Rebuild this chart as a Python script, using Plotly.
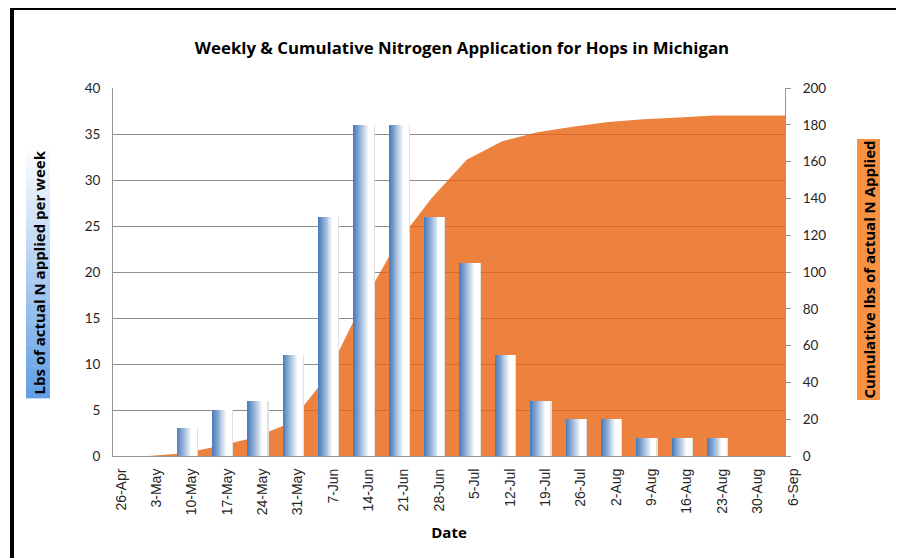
import plotly.graph_objects as go

# ---------------- data ----------------
dates = ["26-Apr", "3-May", "10-May", "17-May", "24-May", "31-May", "7-Jun", "14-Jun",
         "21-Jun", "28-Jun", "5-Jul", "12-Jul", "19-Jul", "26-Jul", "2-Aug", "9-Aug",
         "16-Aug", "23-Aug", "30-Aug", "6-Sep"]
weekly_lbs = [0, 0, 3, 5, 6, 11, 26, 36, 36, 26, 21, 11, 6, 4, 4, 2, 2, 2, 0, 0]
cumulative_lbs = [0, 0, 1.5, 5.5, 10, 18, 42, 81, 115, 140, 161, 171, 176, 179,
                  181.5, 183, 184, 185, 185, 185]
left_ticks = [0, 5, 10, 15, 20, 25, 30, 35, 40]
right_ticks = [0, 20, 40, 60, 80, 100, 120, 140, 160, 180, 200]

title_text = "Weekly & Cumulative Nitrogen Application for Hops in Michigan"
left_title = "Lbs of actual N applied per week"
right_title = "Cumulative lbs of actual N Applied"
x_title = "Date"

# ---------------- style ----------------
OFF = 8                      # page body margin
W, H = 904 - OFF, 558 - OFF
PX0, PX1, PY0, PY1 = 113, 785, 88, 456   # plot area in page pixels
L, T = PX0 - OFF, PY0 - OFF
PW, PH = PX1 - PX0, PY1 - PY0
R, B = W - L - PW, H - T - PH


def px_x(p):
    return (p - PX0) / PW


def px_y(p):
    return (PY1 - p) / PH


ORANGE_FILL = "rgba(231,99,12,0.80)"
GRID = "rgb(140,140,140)"
AXIS = "rgb(150,150,150)"
TICKFONT = dict(family="Lato, Open Sans, sans-serif", size=13.5, color="#262626")

fig = go.Figure()

# cumulative area (base y axis, right side)
fig.add_trace(go.Scatter(
    x=dates, y=cumulative_lbs, mode="lines", fill="tozeroy",
    line=dict(width=0, color="rgb(236,131,57)"), fillcolor=ORANGE_FILL,
    name="Cumulative", yaxis="y", showlegend=False))

# weekly bars with horizontal blue->white gradient made of thin overlaid slices
bar_w = 0.54
shift = 0.08
n_slices = 20
blue = (72, 122, 186)
# soft shadow behind bars
fig.add_trace(go.Bar(
    x=dates, y=weekly_lbs, yaxis="y2", width=bar_w + 0.04,
    offset=shift - bar_w / 2 + 0.01, marker=dict(color="rgb(225,225,225)", line=dict(width=0)),
    showlegend=False, hoverinfo="skip"))
for k in range(n_slices):
    t = (k + 0.5) / n_slices
    s = min(1.0, t / 0.78) ** 1.1
    c = tuple(round(b + (255 - b) * s) for b in blue)
    fig.add_trace(go.Bar(
        x=dates, y=weekly_lbs, yaxis="y2",
        width=bar_w / n_slices + 0.004,
        offset=shift - bar_w / 2 + k * bar_w / n_slices,
        marker=dict(color="rgb(%d,%d,%d)" % c, line=dict(width=0)),
        showlegend=False, hoverinfo="skip" if k else None, name="Weekly"))

# decorative gradient box behind the left axis title
shapes = []
bx0, bx1 = px_x(26), px_x(50)
by_top, by_bot = 146, 398
nb = 24
for i in range(nb):
    y0p = by_top + (by_bot - by_top) * i / nb
    y1p = by_top + (by_bot - by_top) * (i + 1) / nb
    s = (i + 0.5) / nb
    c0 = (255, 255, 255)
    c1 = (95, 158, 228)
    c = tuple(round(a + (b - a) * s) for a, b in zip(c0, c1))
    shapes.append(dict(type="rect", xref="paper", yref="paper",
                       x0=bx0, x1=bx1, y0=px_y(y1p) - 0.001, y1=px_y(y0p),
                       fillcolor="rgb(%d,%d,%d)" % c, line=dict(width=0), layer="below"))

# outer frame lines (left and top)
shapes.append(dict(type="line", xref="paper", yref="paper",
                   x0=px_x(12), x1=px_x(12), y0=px_y(8), y1=px_y(600),
                   line=dict(color="black", width=4)))
shapes.append(dict(type="line", xref="paper", yref="paper",
                   x0=px_x(10), x1=px_x(950), y0=px_y(8.5), y1=px_y(8.5),
                   line=dict(color="black", width=3)))

annotations = [
    dict(text="<b>%s</b>" % left_title, xref="paper", yref="paper",
         x=px_x(38), y=px_y(272.5), textangle=-90, showarrow=False,
         font=dict(family="Open Sans, sans-serif", size=15, color="black"),
         xanchor="center", yanchor="middle"),
    dict(text="<b>%s</b>" % right_title, xref="paper", yref="paper",
         x=px_x(868.5), y=px_y(270), textangle=-90, showarrow=False,
         font=dict(family="Open Sans, sans-serif", size=15, color="black"),
         bgcolor="rgb(248,145,66)", borderpad=1,
         xanchor="center", yanchor="middle"),
]

fig.update_layout(
    width=W, height=H,
    margin=dict(l=L, r=R, t=T, b=B),
    paper_bgcolor="white", plot_bgcolor="white",
    barmode="overlay", bargap=0,
    title=dict(text="<b>%s</b>" % title_text, x=px_x(462), xref="paper",
               xanchor="center", y=1 - (48 - OFF) / H, yref="container", yanchor="middle",
               font=dict(family="Open Sans, sans-serif", size=16.8, color="black")),
    xaxis=dict(type="category", range=[0, 19], tickangle=-90,
               tickfont=dict(family="Liberation Sans, Arial, sans-serif", size=14, color="#262626"),
               ticks="", showgrid=False, zeroline=False,
               showline=True, linecolor=AXIS, linewidth=1,
               ticklabelstandoff=6, ticklabelshift=8,
               title=dict(text="<b>%s</b>" % x_title, standoff=13,
                          font=dict(family="Open Sans, sans-serif", size=15, color="black"))),
    yaxis=dict(side="right", range=[0, 200], tickvals=right_ticks,
               showgrid=False, zeroline=False, showline=True, linecolor=AXIS, linewidth=1,
               ticks="outside", ticklen=5, tickcolor=AXIS, ticklabelstandoff=9,
               tickfont=TICKFONT),
    yaxis2=dict(side="left", overlaying="y", range=[0, 40], tickvals=left_ticks,
                showgrid=True, gridcolor=GRID, gridwidth=1, zeroline=False,
                showline=True, linecolor=AXIS, linewidth=1, ticks="",
                ticklabelstandoff=9, tickfont=TICKFONT),
    shapes=shapes, annotations=annotations,
    showlegend=False,
)

fig.write_html("out.html")
